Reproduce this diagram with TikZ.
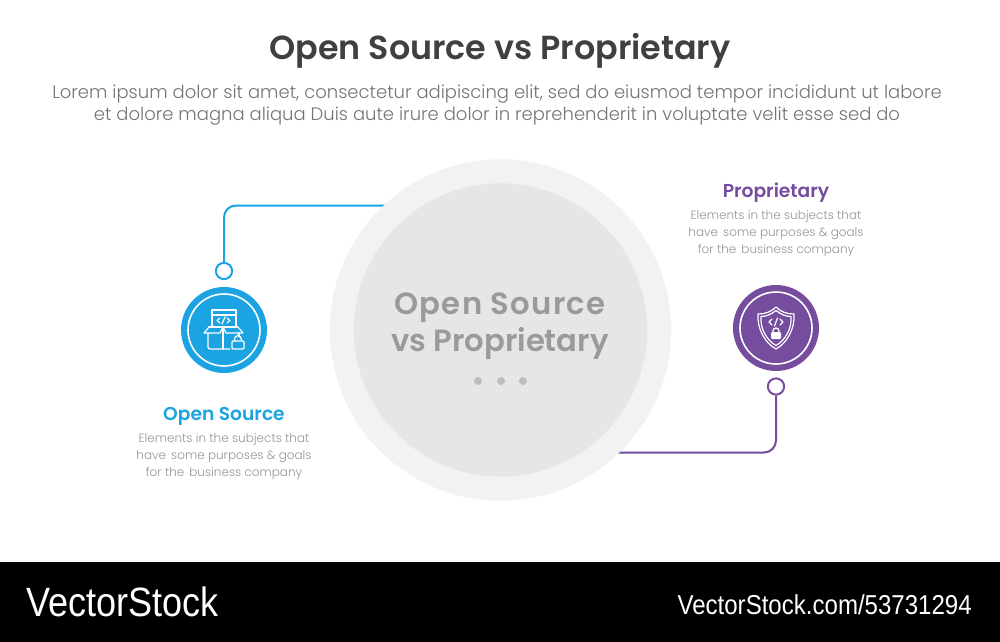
\documentclass[tikz,border=0pt]{standalone}
\usepackage{fontspec}
\setmainfont{Poppins}
\newfontfamily\litefont[UprightFont=* Light]{Poppins}
\newfontfamily\semifont[UprightFont=* SemiBold]{Poppins}
\newfontfamily\wmfont[FakeStretch=0.88]{Liberation Sans}
\newcommand{\gapsp}{\hspace{.42em}}
\definecolor{blueC}{HTML}{1BA3E2}
\definecolor{purpC}{HTML}{754C9E}
\definecolor{ringC}{HTML}{F2F2F2}
\definecolor{coreC}{HTML}{E6E6E6}
\definecolor{titleC}{HTML}{404040}
\definecolor{subC}{HTML}{757575}
\definecolor{bodyC}{HTML}{959595}
\definecolor{midC}{HTML}{9A9A9A}
\definecolor{dotC}{HTML}{BDBDBD}
\tikzset{
  px/.style={x=0.75pt,y=-0.75pt},
  heading/.style={font=\semifont\fontsize{25}{30}\selectfont,text=titleC,inner sep=0pt},
  sub/.style={font=\litefont\fontsize{13.5}{16.5}\selectfont,text=subC,inner sep=0pt,align=center},
  lbl/.style={font=\semifont\fontsize{14}{16}\selectfont,inner sep=0pt},
  body/.style={font=\litefont\fontsize{9}{12.75}\selectfont,text=bodyC,inner sep=0pt,align=center},
  mid/.style={font=\semifont\fontsize{23}{27.5}\selectfont,text=midC,inner sep=0pt,align=center},
  link/.style={line width=1.5pt,rounded corners=9pt},
  pin/.style={circle,draw,fill=white,line width=1.5pt,minimum size=12.2pt,inner sep=0pt},
  badge/.style={circle,minimum size=64.5pt,inner sep=0pt},
  ic/.style={white,line width=.9pt,line join=round,line cap=round},
  wm/.style={text=white,inner sep=0pt},
}
\begin{document}
\begin{tikzpicture}[px]
\useasboundingbox (0,0) rectangle (1000,642);
\fill[white] (0,0) rectangle (1000,642);
\fill[black] (0,562) rectangle (1000,642);
\node[heading] (title) at (500,51) {Open Source vs Proprietary};
\node[sub] (subtitle) at (497,105) {Lorem ipsum dolor sit amet, consectetur adipiscing elit, sed do eiusmod tempor incididunt ut labore\\et dolore magna aliqua Duis aute irure dolor in reprehenderit in voluptate velit esse sed do};

\node[pin,draw=blueC] (pinA) at (224,271) {};
\node[pin,draw=purpC] (pinB) at (776,386.5) {};
\coordinate (endA) at (400,205.5);
\coordinate (endB) at (600,452.5);
\draw[link,blueC] (pinA.north) |- (endA);
\draw[link,purpC] (pinB.south) |- (endB);

\node[circle,fill=ringC,minimum size=256pt,inner sep=0pt] (outer) at (500.5,330) {};
\node[circle,fill=coreC,minimum size=220pt,inner sep=0pt] (core) at (500.5,330) {};
\node[mid] (midtext) at (500,326) {{\addfontfeature{LetterSpace=4}Open Source}\\vs Proprietary};
\fill[dotC] (478,381) circle (4) (501,381) circle (4) (523,381) circle (4);

% left badge
\node[badge,fill=blueC] (badgeA) at (224,330) {};
\draw[white,line width=1.2pt] (badgeA) circle (36);
\begin{scope}[shift={(224,330)},ic]
  \draw (-12,-3) -- (-12,-20) -- (12,-20) -- (12,-3);
  \draw (-12,-15) -- (12,-15);
  \draw (-4,-12) -- (-7,-9.5) -- (-4,-7) (3,-12) -- (6,-9.5) -- (3,-7) (1,-13) -- (-2,-6);
  \draw (-15,-3) -- (-1,-3) -- (14,-3);
  \draw (-15,-3) -- (-20,3) -- (-4,3) -- (-1,-3) -- (2,3) -- (19,3) -- (14,-3);
  \draw[rounded corners=1.5] (-16,3) -- (-16,19) -- (6,19);
  \draw (-1,-3) -- (-1,19);
  \draw (15,3) -- (15,7);
  \draw[rounded corners=.8] (8,11) rectangle (20,19);
  \draw (10.5,11) -- (10.5,9) arc (180:360:3.4) -- (17.3,10);
\end{scope}

% right badge
\node[badge,fill=purpC] (badgeB) at (776,328) {};
\draw[white,line width=1.2pt] (badgeB) circle (36);
\begin{scope}[shift={(776,328)},ic]
  \draw (0,-21) .. controls (5,-16) and (11,-14) .. (18,-14) .. controls (19,1) and (11,15) .. (0,21) .. controls (-11,15) and (-19,1) .. (-18,-14) .. controls (-11,-14) and (-5,-16) .. (0,-21);
  \draw (0,-17.5) .. controls (5,-13.5) and (10,-11.5) .. (15,-11.5) .. controls (16,1) and (9,12.5) .. (0,17.5) .. controls (-9,12.5) and (-16,1) .. (-15,-11.5) .. controls (-10,-11.5) and (-5,-13.5) .. (0,-17.5);
  \draw (-4,-9) -- (-7,-6) -- (-4,-3) (4,-9) -- (7,-6) -- (4,-3) (1.5,-10) -- (-1.5,-2);
  \fill[white,rounded corners=.8] (-5,4) rectangle (5,11);
  \draw[line width=1pt] (-3,4) -- (-3,3) arc (180:360:3) -- (3,4);
\end{scope}

\node[lbl,text=blueC] (labelA) at (224,416) {Open Source};
\node[body] (bodyA) at (224,456.5) {Elements in the subjects that\\have\gapsp some purposes \& goals\\for the\gapsp business company};
\node[lbl,text=purpC] (labelB) at (776,193) {Proprietary};
\node[body] (bodyB) at (776,234) {Elements in the subjects that\\have\gapsp some purposes \& goals\\for the\gapsp business company};

\node[wm,font=\wmfont\fontsize{30.7}{30}\selectfont,anchor=west] (wmL) at (26,601.5) {VectorStock};
\node[wm,font=\wmfont\fontsize{20.5}{20}\selectfont,anchor=east] (wmR) at (972,604.5) {VectorStock.com/53731294};
\end{tikzpicture}
\end{document}
